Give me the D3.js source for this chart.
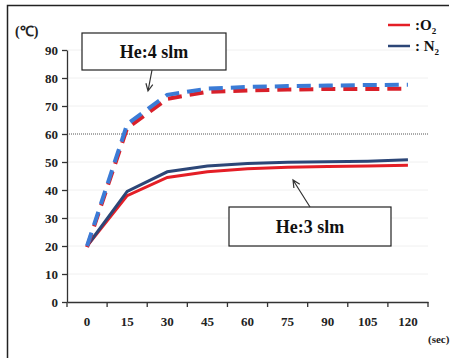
<!DOCTYPE html>
<html>
<head>
<meta charset="utf-8">
<script src="https://cdn.jsdelivr.net/npm/d3@7"></script>
<style>
  body { margin: 0; background: #fff; }
  svg text { font-family: "Liberation Serif", "Times New Roman", serif; font-weight: bold; }
</style>
</head>
<body>
<svg id="chart" width="458" height="358"></svg>
<script>
// categories (sec)
const times = [0, 15, 30, 45, 60, 75, 90, 105, 120];
const yTicks = [0, 10, 20, 30, 40, 50, 60, 70, 80, 90];

// He:4 slm (dashed)
const o2He4 = [20, 62.5, 73, 75.5, 76, 76.3, 76.5, 76.5, 76.6];
const n2He4 = [20, 63.5, 74, 76.2, 76.8, 77.1, 77.3, 77.5, 77.6];
// He:3 slm (solid)
const o2He3 = [20, 38, 44.5, 46.5, 47.6, 48.1, 48.4, 48.6, 48.8];
const n2He3 = [20, 39.5, 46.5, 48.6, 49.5, 49.9, 50.1, 50.3, 50.8];

const svg = d3.select('#chart');
const plotL = 67, plotR = 428, plotT = 50, plotB = 302;

const x = d3.scaleBand().domain(times).range([plotL, plotR]);
const y = d3.scaleLinear().domain([0, 90]).range([plotB, plotT]);

// outer frame (left + top edges visible)
svg.append('path')
  .attr('d', 'M7.5,358 V5.5 H449')
  .attr('fill', 'none').attr('stroke', '#222').attr('stroke-width', 1.5);

// faint gridlines
svg.append('g').selectAll('line')
  .data(yTicks.filter(d => d > 0 && d !== 60))
  .join('line')
  .attr('x1', plotL).attr('x2', plotR)
  .attr('y1', d => y(d)).attr('y2', d => y(d))
  .attr('stroke', '#f0f0f0').attr('stroke-width', 1);

// dotted reference line at 60
svg.append('line')
  .attr('x1', plotL).attr('x2', plotR)
  .attr('y1', y(60)).attr('y2', y(60))
  .attr('stroke', '#555').attr('stroke-width', 1).attr('stroke-dasharray', '1,1');

// axes
const yAxis = d3.axisLeft(y).tickValues(yTicks).tickSize(5).tickSizeOuter(0);
const gy = svg.append('g').attr('transform', `translate(${plotL},0)`).call(yAxis);
gy.select('.domain').attr('stroke', '#333').attr('stroke-width', 1.3);
gy.selectAll('line').attr('stroke', '#333').attr('stroke-width', 1.3);
gy.selectAll('text').attr('font-size', 13).attr('fill', '#222').attr('x', -9);

const xAxis = d3.axisBottom(x).tickSize(0);
const gx = svg.append('g').attr('transform', `translate(0,${plotB})`).call(xAxis);
gx.select('.domain').attr('stroke', '#333').attr('stroke-width', 1.3);
gx.selectAll('text').attr('font-size', 13).attr('fill', '#222').attr('dy', '1.65em');
// ticks between categories
svg.append('g').selectAll('line')
  .data(times.concat(['end']))
  .join('line')
  .attr('x1', (d, i) => plotL + i * x.bandwidth())
  .attr('x2', (d, i) => plotL + i * x.bandwidth())
  .attr('y1', plotB).attr('y2', plotB + 5)
  .attr('stroke', '#333').attr('stroke-width', 1.3);

// unit labels
svg.append('text').attr('x', 15).attr('y', 36).attr('font-size', 14).attr('fill', '#222').text('(℃)');
svg.append('text').attr('x', 428).attr('y', 343).attr('font-size', 11).attr('fill', '#222').text('(sec)');

const line = d3.line()
  .x((d, i) => x(times[i]) + x.bandwidth() / 2)
  .y(d => y(d));

const series = [
  { v: o2He3, color: '#e41e26', dash: null, w: 3 },
  { v: n2He3, color: '#2c4677', dash: null, w: 3 },
  { v: o2He4, color: '#d9202a', dash: '14,8', w: 4, off: 1.2 },
  { v: n2He4, color: '#3b7bd6', dash: '14,8', w: 4, off: 0 }
];
svg.append('g').selectAll('path')
  .data(series)
  .join('path')
  .attr('d', d => line(d.v))
  .attr('fill', 'none')
  .attr('stroke', d => d.color)
  .attr('stroke-width', d => d.w)
  .attr('stroke-dasharray', d => d.dash)
  .attr('transform', d => d.off ? `translate(0,${d.off})` : null);

// annotation boxes
function note(bx, by, bw, bh, label) {
  svg.append('rect').attr('x', bx).attr('y', by).attr('width', bw).attr('height', bh)
    .attr('fill', '#fff').attr('stroke', '#222').attr('stroke-width', 1.2);
  svg.append('text').attr('x', bx + bw / 2).attr('y', by + bh / 2 + 6)
    .attr('text-anchor', 'middle').attr('font-size', 18).attr('fill', '#111').text(label);
}
function arrow(x1, y1, x2, y2) {
  const a = Math.atan2(y2 - y1, x2 - x1), L = 8;
  svg.append('path')
    .attr('d', `M${x1},${y1}L${x2},${y2}` +
      `M${x2 - L * Math.cos(a - 0.45)},${y2 - L * Math.sin(a - 0.45)}L${x2},${y2}` +
      `L${x2 - L * Math.cos(a + 0.45)},${y2 - L * Math.sin(a + 0.45)}`)
    .attr('fill', 'none').attr('stroke', '#333').attr('stroke-width', 1.2);
}
note(82, 33, 144, 37, 'He:4 slm');
arrow(152, 70, 148, 91);
note(229, 207, 162, 39, 'He:3 slm');
arrow(310, 207, 293, 180);

// legend
const legend = [
  { label: ':O', color: '#e41e26', y: 25 },
  { label: ': N', color: '#2c4677', y: 46 }
];
const lg = svg.append('g').selectAll('g').data(legend).join('g');
lg.append('line').attr('x1', 388).attr('x2', 410)
  .attr('y1', d => d.y).attr('y2', d => d.y)
  .attr('stroke', d => d.color).attr('stroke-width', 2.5);
const lt = lg.append('text').attr('x', 415).attr('y', d => d.y + 5)
  .attr('font-size', 15).attr('fill', '#111');
lt.append('tspan').text(d => d.label);
lt.append('tspan').attr('font-size', 9).attr('dy', 4).text('2');
</script>
</body>
</html>
